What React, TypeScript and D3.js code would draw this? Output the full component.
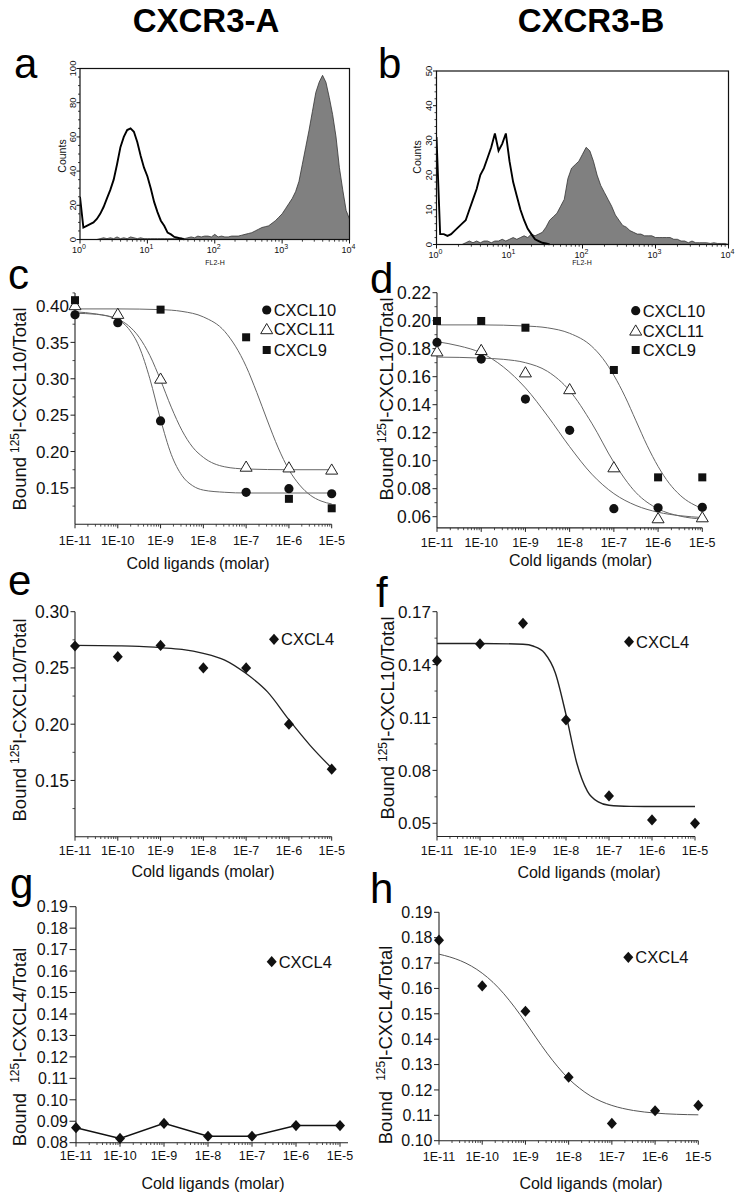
import React from 'react';
import * as d3 from 'd3';

const FONT = '"Liberation Sans", Arial, Helvetica, sans-serif';

// ================= Panels a / b : flow cytometry histograms =================
const histBinLog = 0.05; // decades per bin, starting at 10^0
const histExponents = [0, 1, 2, 3, 4];

const aControlCounts = [25, 7, 8, 9, 10, 12, 15, 19, 24, 29, 35, 44, 54, 60, 64, 65, 63, 57, 49, 42, 37, 30, 22, 16, 11, 8, 4, 3, 1.5, 1, 0.5, 0];
const aStainedCounts = [0, 0, 0, 0, 0, 0, 0.5, 1, 0.5, 1, 0.5, 1.5, 0.5, 1, 0.5, 1.5, 1, 0.5, 1, 0.5, 0.5, 0.5, 0.5, 0.5, 0.5, 0.5, 0.5, 0.5, 0.5, 0.5, 1, 0.5, 1, 1.5, 1, 2, 1.5, 2, 2, 1.5, 3, 1.5, 2, 1.5, 1.5, 2, 2, 2, 2.5, 3, 3.5, 4, 5, 6, 7, 7.5, 8, 9.5, 11, 13, 15, 18, 21, 24, 28, 34, 44, 54, 64, 75, 86, 92, 96, 92, 83, 73, 60, 42, 29, 17, 12];
const aCountMajors = [0, 20, 40, 60, 80, 100];

const bControlCounts = [31, 3, 3, 2.5, 3, 4, 5, 6, 7, 10, 13, 16, 20, 22, 25, 28, 32, 27, 29, 32, 24, 18, 14, 10, 7, 4.5, 3, 1.5, 1, 0.5, 0.3, 0];
const bStainedCounts = [0, 0, 0, 0, 0, 0, 0, 0, 0.5, 1, 0.5, 1, 0.5, 1, 1, 0.5, 1, 1, 1.5, 1, 1.5, 2, 1.5, 2, 2.5, 2, 3, 2.5, 3, 3.5, 5, 7, 8, 9, 11, 13, 19, 22, 23, 24, 26, 28, 27, 24, 20, 17, 15, 13, 11, 8.5, 7, 5.5, 5, 4, 3.5, 3, 3, 2.5, 2.5, 2.5, 2, 2, 2, 2, 2, 1.5, 1.5, 1, 1, 0.5, 1, 0.5, 0.5, 0.5, 0.5, 0.3, 0.5, 0.3, 0.3, 0.3, 0];
const bCountMajors = [0, 10, 20, 30, 40, 50];

// ================= Binding panels (c - h) =================
const concLog = [-11, -10, -9, -8, -7, -6, -5];
const concLabels = ['1E-11', '1E-10', '1E-9', '1E-8', '1E-7', '1E-6', '1E-5'];

// panel c (CXCR3-A, 125I-CXCL10)
const cCXCL10Conc = [-11, -10, -9, -7, -6, -5];
const cCXCL10Val = [0.388, 0.377, 0.242, 0.144, 0.149, 0.142];
const cCXCL11Conc = [-11, -10, -9, -7, -6, -5];
const cCXCL11Val = [0.401, 0.389, 0.300, 0.179, 0.178, 0.175];
const cCXCL9Conc = [-11, -9, -7, -6, -5];
const cCXCL9Val = [0.408, 0.395, 0.357, 0.135, 0.122];
const cCXCL10FitLog = [-11, -10.5, -10, -9.75, -9.5, -9.25, -9, -8.75, -8.5, -8.25, -8, -7.5, -7, -6, -5];
const cCXCL10FitVal = [0.390, 0.3886, 0.381, 0.369, 0.344, 0.300, 0.244, 0.196, 0.167, 0.153, 0.147, 0.144, 0.143, 0.143, 0.143];
const cCXCL11FitLog = [-11, -10.5, -10, -9.75, -9.5, -9.25, -9, -8.75, -8.5, -8.25, -8, -7.5, -7, -6, -5];
const cCXCL11FitVal = [0.392, 0.389, 0.382, 0.373, 0.357, 0.332, 0.298, 0.261, 0.229, 0.206, 0.192, 0.179, 0.176, 0.175, 0.175];
const cCXCL9FitLog = [-11, -10, -9, -8.5, -8, -7.5, -7, -6.75, -6.5, -6.25, -6, -5.75, -5.5, -5.25, -5];
const cCXCL9FitVal = [0.396, 0.396, 0.395, 0.3926, 0.385, 0.365, 0.317, 0.281, 0.242, 0.205, 0.175, 0.154, 0.140, 0.132, 0.128];
const cYMajors = [0.15, 0.20, 0.25, 0.30, 0.35, 0.40];
const cYMinors = [0.125, 0.175, 0.225, 0.275, 0.325, 0.375, 0.418];

// panel d (CXCR3-B, 125I-CXCL10)
const dCXCL10Val = [0.1845, 0.1726, 0.144, 0.1217, 0.0657, 0.0664, 0.0667];
const dCXCL11Val = [0.178, 0.179, 0.163, 0.151, 0.0952, 0.0588, 0.0595];
const dCXCL9Val = [0.1998, 0.1998, 0.195, 0.1648, 0.0881, 0.0881];
const dCXCL9Conc = [-11, -10, -9, -7, -6, -5];
const dCXCL10FitLog = [-11, -10.5, -10, -9.5, -9, -8.5, -8, -7.5, -7, -6.5, -6, -5.5, -5];
const dCXCL10FitVal = [0.185, 0.182, 0.177, 0.167, 0.152, 0.132, 0.110, 0.0904, 0.0765, 0.068, 0.0632, 0.0607, 0.0594];
const dCXCL11FitLog = [-11, -10.5, -10, -9.5, -9, -8.5, -8, -7.5, -7, -6.5, -6, -5.5, -5];
const dCXCL11FitVal = [0.174, 0.1738, 0.1733, 0.1724, 0.170, 0.1638, 0.150, 0.1268, 0.0988, 0.0772, 0.0656, 0.0604, 0.0583];
const dCXCL9FitLog = [-11, -10, -9, -8.5, -8, -7.5, -7.25, -7, -6.75, -6.5, -6.25, -6, -5.75, -5.5, -5];
const dCXCL9FitVal = [0.197, 0.197, 0.1962, 0.1949, 0.191, 0.1817, 0.173, 0.161, 0.146, 0.1285, 0.111, 0.0959, 0.0839, 0.0753, 0.0658];
const dYMajors = [0.06, 0.08, 0.10, 0.12, 0.14, 0.16, 0.18, 0.20, 0.22];
const dYMinors = [0.07, 0.09, 0.11, 0.13, 0.15, 0.17, 0.19, 0.21];

// panel e (CXCR3-A, CXCL4 vs 125I-CXCL10)
const eCXCL4Val = [0.2695, 0.260, 0.270, 0.250, 0.250, 0.200, 0.160];
const eFitLog = [-11, -10, -9.5, -9, -8.5, -8, -7.5, -7, -6.5, -6, -5.5, -5];
const eFitVal = [0.270, 0.2696, 0.2691, 0.268, 0.2665, 0.263, 0.257, 0.245, 0.2287, 0.204, 0.181, 0.161];
const eYMajors = [0.15, 0.20, 0.25, 0.30];
const eYMinors = [0.125, 0.175, 0.225, 0.275];

// panel f (CXCR3-B, CXCL4 vs 125I-CXCL10)
const fCXCL4Val = [0.1422, 0.1517, 0.1634, 0.1086, 0.0655, 0.0519, 0.050];
const fFitLog = [-11, -10, -9, -8.75, -8.5, -8.25, -8, -7.75, -7.5, -7.25, -7, -6.5, -6, -5];
const fFitVal = [0.152, 0.152, 0.1515, 0.1504, 0.1466, 0.1354, 0.1116, 0.0842, 0.0681, 0.0621, 0.0602, 0.0596, 0.0595, 0.0595];
const fYMajors = [0.05, 0.08, 0.11, 0.14, 0.17];
const fYMinors = [0.065, 0.095, 0.125, 0.155];

// panel g (CXCR3-A, 125I-CXCL4)
const gCXCL4Val = [0.087, 0.082, 0.089, 0.083, 0.083, 0.088, 0.088];
const gYMajors = [0.08, 0.09, 0.10, 0.11, 0.12, 0.13, 0.14, 0.15, 0.16, 0.17, 0.18, 0.19];

// panel h (CXCR3-B, 125I-CXCL4)
const hCXCL4Val = [0.179, 0.161, 0.151, 0.125, 0.1068, 0.1118, 0.1139];
const hFitLog = [-11, -10.75, -10.5, -10.25, -10, -9.75, -9.5, -9.25, -9, -8.75, -8.5, -8.25, -8, -7.75, -7.5, -7.25, -7, -6.5, -6, -5.5, -5];
const hFitVal = [0.1735, 0.1724, 0.1709, 0.1688, 0.1660, 0.1624, 0.1579, 0.1526, 0.1467, 0.1405, 0.1345, 0.1291, 0.1244, 0.1207, 0.1177, 0.1155, 0.1139, 0.1119, 0.1109, 0.1104, 0.1102];
const hYMajors = [0.10, 0.11, 0.12, 0.13, 0.14, 0.15, 0.16, 0.17, 0.18, 0.19];

// ================= components =================
type MarkerKind = 'circle' | 'triangle' | 'square' | 'diamond';

function Marker({ kind, cx, cy, s = 1 }: { kind: MarkerKind; cx: number; cy: number; s?: number }) {
  if (kind === 'circle') return <circle cx={cx} cy={cy} r={4.6 * s} fill="#111" />;
  if (kind === 'square') return <rect x={cx - 4 * s} y={cy - 4 * s} width={8 * s} height={8 * s} fill="#111" />;
  if (kind === 'triangle')
    return (
      <polygon
        points={`${cx},${cy - 5.8 * s} ${cx - 6 * s},${cy + 4.4 * s} ${cx + 6 * s},${cy + 4.4 * s}`}
        fill="#fff"
        stroke="#222"
        strokeWidth={1}
      />
    );
  return (
    <polygon
      points={`${cx},${cy - 5.6 * s} ${cx + 5 * s},${cy} ${cx},${cy + 5.6 * s} ${cx - 5 * s},${cy}`}
      fill="#111"
    />
  );
}

type Series = {
  name: string;
  conc: number[];
  val: number[];
  marker: MarkerKind;
  fitLog?: number[];
  fitVal?: number[];
  connect?: boolean;
  lineColor?: string;
  lineWidth?: number;
  markerScale?: number;
};

type BindCfg = {
  x0: number;
  x1: number;
  xAxisEnd?: number;
  yDomain: [number, number];
  yRange: [number, number];
  yMajors: number[];
  yMinors: number[];
  yTickFont: number;
  yTickLen: number;
  xLabelBaseline: number;
  xTitle: [number, number];
  yTitle: [number, number];
  yTitleLigand: string;
  yTitleGap?: boolean;
  legendX: number;
  legendY: number[];
  series: Series[];
};

function BindingPanel({ cfg }: { cfg: BindCfg }) {
  const x = d3.scaleLinear().domain([-11, -5]).range([cfg.x0, cfg.x1]);
  const y = d3.scaleLinear().domain(cfg.yDomain).range(cfg.yRange);
  const yBottom = y(cfg.yDomain[0]);
  const yTop = y(cfg.yDomain[1]);
  const xEnd = cfg.xAxisEnd ?? cfg.x1;
  const minorX: number[] = [];
  for (let dcd = -11; dcd < -5; dcd++) for (let k = 2; k <= 9; k++) minorX.push(dcd + Math.log10(k));
  const fmt = d3.format('.2f');
  const fitLine = d3
    .line<[number, number]>()
    .x((d) => x(d[0]))
    .y((d) => y(d[1]))
    .curve(d3.curveMonotoneX);
  const straight = d3
    .line<[number, number]>()
    .x((d) => x(d[0]))
    .y((d) => y(d[1]));
  const axisColor = '#222';
  return (
    <g>
      <line x1={cfg.x0} x2={cfg.x0} y1={yBottom} y2={yTop} stroke={axisColor} strokeWidth={1.1} />
      <line x1={cfg.x0} x2={xEnd} y1={yBottom} y2={yBottom} stroke={axisColor} strokeWidth={1.1} />
      {cfg.yMajors.map((v) => (
        <g key={'ym' + v}>
          <line x1={cfg.x0 - cfg.yTickLen} x2={cfg.x0} y1={y(v)} y2={y(v)} stroke={axisColor} strokeWidth={1} />
          <text
            x={cfg.x0 - cfg.yTickLen - 1.5}
            y={y(v)}
            dy="0.36em"
            textAnchor="end"
            fontSize={cfg.yTickFont}
            fill="#111"
          >
            {fmt(v)}
          </text>
        </g>
      ))}
      {cfg.yMinors.map((v) => (
        <line key={'yn' + v} x1={cfg.x0 - 2.5} x2={cfg.x0} y1={y(v)} y2={y(v)} stroke={axisColor} strokeWidth={0.8} />
      ))}
      {concLog.map((c, i) => (
        <g key={'xm' + c}>
          <line x1={x(c)} x2={x(c)} y1={yBottom} y2={yBottom + 4} stroke={axisColor} strokeWidth={1} />
          <text x={x(c)} y={cfg.xLabelBaseline} textAnchor="middle" fontSize={12.5} fill="#111">
            {concLabels[i]}
          </text>
        </g>
      ))}
      {minorX.map((v, i) => (
        <line key={'xn' + i} x1={x(v)} x2={x(v)} y1={yBottom} y2={yBottom + 2.3} stroke={axisColor} strokeWidth={0.8} />
      ))}
      <text x={cfg.xTitle[0]} y={cfg.xTitle[1]} textAnchor="middle" fontSize={16} fill="#111">
        Cold ligands (molar)
      </text>
      <text
        transform={`translate(${cfg.yTitle[0]},${cfg.yTitle[1]}) rotate(-90)`}
        textAnchor="middle"
        fontSize={18.5}
        fill="#111"
      >
        Bound
        <tspan dx={cfg.yTitleGap ? 10 : 4} dy={-7} fontSize={12}>
          125
        </tspan>
        <tspan dy={7}>{`I-${cfg.yTitleLigand}/Total`}</tspan>
      </text>
      {cfg.series.map((s) => {
        const pts: [number, number][] = s.conc.map((c, i) => [c, s.val[i]]);
        const fit: [number, number][] | null = s.fitLog ? s.fitLog.map((c, i) => [c, s.fitVal![i]]) : null;
        return (
          <g key={s.name + s.marker}>
            {fit && (
              <path d={fitLine(fit) || ''} fill="none" stroke={s.lineColor || '#555'} strokeWidth={s.lineWidth || 1} />
            )}
            {s.connect && (
              <path d={straight(pts) || ''} fill="none" stroke={s.lineColor || '#111'} strokeWidth={s.lineWidth || 1.5} />
            )}
          </g>
        );
      })}
      {cfg.series.map((s) => (
        <g key={'m' + s.name + s.marker}>
          {s.conc.map((c, i) => (
            <Marker key={i} kind={s.marker} cx={x(c)} cy={y(s.val[i])} s={s.markerScale || 1} />
          ))}
        </g>
      ))}
      {cfg.series.map((s, i) => (
        <g key={'lg' + s.name}>
          <Marker kind={s.marker} cx={cfg.legendX} cy={cfg.legendY[i]} s={s.markerScale || 1} />
          <text x={cfg.legendX + 7} y={cfg.legendY[i]} dy="0.36em" fontSize={16.5} fill="#111">
            {s.name}
          </text>
        </g>
      ))}
    </g>
  );
}

type HistCfg = {
  id: string;
  left: number;
  right: number;
  top: number;
  bottom: number;
  yMax: number;
  yMajors: number[];
  yMinorStep: number;
  control: number[];
  stained: number[];
  countsX: number;
  countsY: number;
  yLabelX: number;
  xLabelBaseline: number;
  fl2X: number;
  fl2Y: number;
};

function HistPanel({ cfg }: { cfg: HistCfg }) {
  const x = d3.scaleLinear().domain([0, 4]).range([cfg.left, cfg.right]);
  const y = d3.scaleLinear().domain([0, cfg.yMax]).range([cfg.bottom, cfg.top]);
  const area = d3
    .area<number>()
    .x((_, i) => x(i * histBinLog))
    .y0(y(0))
    .y1((d) => y(d));
  const line = d3
    .line<number>()
    .x((_, i) => x(i * histBinLog))
    .y((d) => y(d));
  const minorY = d3.range(0, cfg.yMax + 0.001, cfg.yMinorStep).filter((v) => !cfg.yMajors.includes(v));
  const minorX: number[] = [];
  for (let dcd = 0; dcd < 4; dcd++) for (let k = 2; k <= 9; k++) minorX.push(dcd + Math.log10(k));
  return (
    <g>
      <defs>
        <clipPath id={'clip' + cfg.id}>
          <rect x={cfg.left} y={cfg.top} width={cfg.right - cfg.left} height={cfg.bottom - cfg.top + 1} />
        </clipPath>
      </defs>
      <g clipPath={`url(#clip${cfg.id})`}>
        <path d={area(cfg.stained) || ''} fill="#808080" stroke="#333" strokeWidth={0.8} />
        <path d={line(cfg.control) || ''} fill="none" stroke="#000" strokeWidth={1.9} />
      </g>
      <rect
        x={cfg.left}
        y={cfg.top}
        width={cfg.right - cfg.left}
        height={cfg.bottom - cfg.top}
        fill="none"
        stroke="#111"
        strokeWidth={1.2}
      />
      {cfg.yMajors.map((v) => (
        <g key={'hy' + v}>
          <line x1={cfg.left - 3.5} x2={cfg.left} y1={y(v)} y2={y(v)} stroke="#111" strokeWidth={1} />
          <text
            transform={`translate(${cfg.yLabelX},${y(v)}) rotate(-90)`}
            textAnchor="middle"
            fontSize={9.5}
            fill="#111"
          >
            {v}
          </text>
        </g>
      ))}
      {minorY.map((v) => (
        <line key={'hyn' + v} x1={cfg.left - 2} x2={cfg.left} y1={y(v)} y2={y(v)} stroke="#111" strokeWidth={0.8} />
      ))}
      {histExponents.map((e) => (
        <g key={'hx' + e}>
          <line x1={x(e)} x2={x(e)} y1={cfg.bottom} y2={cfg.bottom + 4} stroke="#111" strokeWidth={1} />
          <text x={x(e) - 1} y={cfg.xLabelBaseline} textAnchor="middle" fontSize={9} fill="#111">
            10
            <tspan dy={-4.5} fontSize={7}>
              {e}
            </tspan>
          </text>
        </g>
      ))}
      {minorX.map((v, i) => (
        <line key={'hxn' + i} x1={x(v)} x2={x(v)} y1={cfg.bottom} y2={cfg.bottom + 2.2} stroke="#111" strokeWidth={0.8} />
      ))}
      <text
        transform={`translate(${cfg.countsX},${cfg.countsY}) rotate(-90)`}
        textAnchor="middle"
        fontSize={10.5}
        fill="#111"
      >
        Counts
      </text>
      <text x={cfg.fl2X} y={cfg.fl2Y} textAnchor="middle" fontSize={7} fill="#111">
        FL2-H
      </text>
    </g>
  );
}

// ================= layout =================
const histA: HistCfg = {
  id: 'a', left: 80, right: 349.5, top: 68.5, bottom: 239.5, yMax: 100, yMajors: aCountMajors, yMinorStep: 5,
  control: aControlCounts, stained: aStainedCounts, countsX: 65.5, countsY: 156, yLabelX: 75.5,
  xLabelBaseline: 253, fl2X: 215, fl2Y: 264.5,
};
const histB: HistCfg = {
  id: 'b', left: 436.5, right: 728.5, top: 71, bottom: 244.5, yMax: 50, yMajors: bCountMajors, yMinorStep: 2,
  control: bControlCounts, stained: bStainedCounts, countsX: 420.5, countsY: 157, yLabelX: 431.5,
  xLabelBaseline: 258, fl2X: 582, fl2Y: 264.5,
};

const panelC: BindCfg = {
  x0: 75, x1: 331.7, yDomain: [0.10, 0.418], yRange: [524.3, 292.9], yMajors: cYMajors, yMinors: cYMinors,
  yTickFont: 17, yTickLen: 4.5, xLabelBaseline: 545, xTitle: [198, 568.5], yTitle: [25.5, 409], yTitleLigand: 'CXCL10',
  legendX: 266.7, legendY: [310, 329.3, 350],
  series: [
    { name: 'CXCL10', conc: cCXCL10Conc, val: cCXCL10Val, marker: 'circle', fitLog: cCXCL10FitLog, fitVal: cCXCL10FitVal, lineColor: '#666' },
    { name: 'CXCL11', conc: cCXCL11Conc, val: cCXCL11Val, marker: 'triangle', fitLog: cCXCL11FitLog, fitVal: cCXCL11FitVal, lineColor: '#666' },
    { name: 'CXCL9', conc: cCXCL9Conc, val: cCXCL9Val, marker: 'square', fitLog: cCXCL9FitLog, fitVal: cCXCL9FitVal, lineColor: '#666' },
  ],
};
const panelD: BindCfg = {
  x0: 437, x1: 702.3, yDomain: [0.052, 0.22], yRange: [527.9, 292.7], yMajors: dYMajors, yMinors: dYMinors,
  yTickFont: 17.5, yTickLen: 4.5, xLabelBaseline: 547, xTitle: [580.5, 565.7], yTitle: [393, 399], yTitleLigand: 'CXCL10',
  legendX: 635.7, legendY: [310.7, 330.7, 350],
  series: [
    { name: 'CXCL10', conc: concLog, val: dCXCL10Val, marker: 'circle', fitLog: dCXCL10FitLog, fitVal: dCXCL10FitVal, lineColor: '#666' },
    { name: 'CXCL11', conc: concLog, val: dCXCL11Val, marker: 'triangle', fitLog: dCXCL11FitLog, fitVal: dCXCL11FitVal, lineColor: '#666' },
    { name: 'CXCL9', conc: dCXCL9Conc, val: dCXCL9Val, marker: 'square', fitLog: dCXCL9FitLog, fitVal: dCXCL9FitVal, lineColor: '#666' },
  ],
};
const panelE: BindCfg = {
  x0: 75, x1: 331.7, yDomain: [0.10, 0.30], yRange: [836.7, 611.7], yMajors: eYMajors, yMinors: eYMinors,
  yTickFont: 17.5, yTickLen: 4.5, xLabelBaseline: 854.5, xTitle: [203, 877.4], yTitle: [25.5, 720], yTitleLigand: 'CXCL10',
  legendX: 274, legendY: [639.3],
  series: [{ name: 'CXCL4', conc: concLog, val: eCXCL4Val, marker: 'diamond', fitLog: eFitLog, fitVal: eFitVal, lineColor: '#222', lineWidth: 1.3 }],
};
const panelF: BindCfg = {
  x0: 437, x1: 695, yDomain: [0.0425, 0.17], yRange: [836.5, 611.7], yMajors: fYMajors, yMinors: fYMinors,
  yTickFont: 17, yTickLen: 4.5, xLabelBaseline: 854.5, xTitle: [589, 878], yTitle: [393.5, 718], yTitleLigand: 'CXCL10',
  legendX: 629, legendY: [641.7],
  series: [{ name: 'CXCL4', conc: concLog, val: fCXCL4Val, marker: 'diamond', fitLog: fFitLog, fitVal: fFitVal, lineColor: '#222', lineWidth: 1.4 }],
};
const panelG: BindCfg = {
  x0: 76, x1: 340, xAxisEnd: 348, yDomain: [0.08, 0.19], yRange: [1142.7, 906.7], yMajors: gYMajors, yMinors: [],
  yTickFont: 16, yTickLen: 6.5, xLabelBaseline: 1159.5, xTitle: [213, 1188.7], yTitle: [25.5, 1047], yTitleLigand: 'CXCL4', yTitleGap: true,
  legendX: 271.7, legendY: [961.7],
  series: [{ name: 'CXCL4', conc: concLog, val: gCXCL4Val, marker: 'diamond', connect: true, lineColor: '#111', lineWidth: 1.5 }],
};
const panelH: BindCfg = {
  x0: 439, x1: 698.3, yDomain: [0.10, 0.19], yRange: [1140.7, 912.3], yMajors: hYMajors, yMinors: [],
  yTickFont: 16, yTickLen: 5, xLabelBaseline: 1160.5, xTitle: [591, 1188.7], yTitle: [392, 1045], yTitleLigand: 'CXCL4', yTitleGap: true,
  legendX: 628.3, legendY: [957.3],
  series: [{ name: 'CXCL4', conc: concLog, val: hCXCL4Val, marker: 'diamond', fitLog: hFitLog, fitVal: hFitVal, lineColor: '#555', lineWidth: 1 }],
};

const panelLetters: [string, number, number][] = [
  ['a', 14, 78],
  ['b', 378, 78],
  ['c', 8, 289],
  ['d', 370, 293],
  ['e', 8, 595],
  ['f', 376, 607],
  ['g', 10, 898],
  ['h', 370, 903],
];

export default function App() {
  return (
    <svg
      width={738}
      height={1199}
      viewBox="0 0 738 1199"
      style={{ position: 'absolute', left: 0, top: 0, background: '#fff' }}
      fontFamily={FONT}
    >
      <rect x={0} y={0} width={738} height={1199} fill="#fff" />
      <text x={206} y={32} textAnchor="middle" fontSize={33} fontWeight="bold" fill="#000">
        CXCR3-A
      </text>
      <text x={591} y={32} textAnchor="middle" fontSize={33} fontWeight="bold" fill="#000">
        CXCR3-B
      </text>
      {panelLetters.map(([l, lx, ly]) => (
        <text key={l} x={lx} y={ly} fontSize={42} fill="#000">
          {l}
        </text>
      ))}
      <HistPanel cfg={histA} />
      <HistPanel cfg={histB} />
      <BindingPanel cfg={panelC} />
      <BindingPanel cfg={panelD} />
      <BindingPanel cfg={panelE} />
      <BindingPanel cfg={panelF} />
      <BindingPanel cfg={panelG} />
      <BindingPanel cfg={panelH} />
    </svg>
  );
}
